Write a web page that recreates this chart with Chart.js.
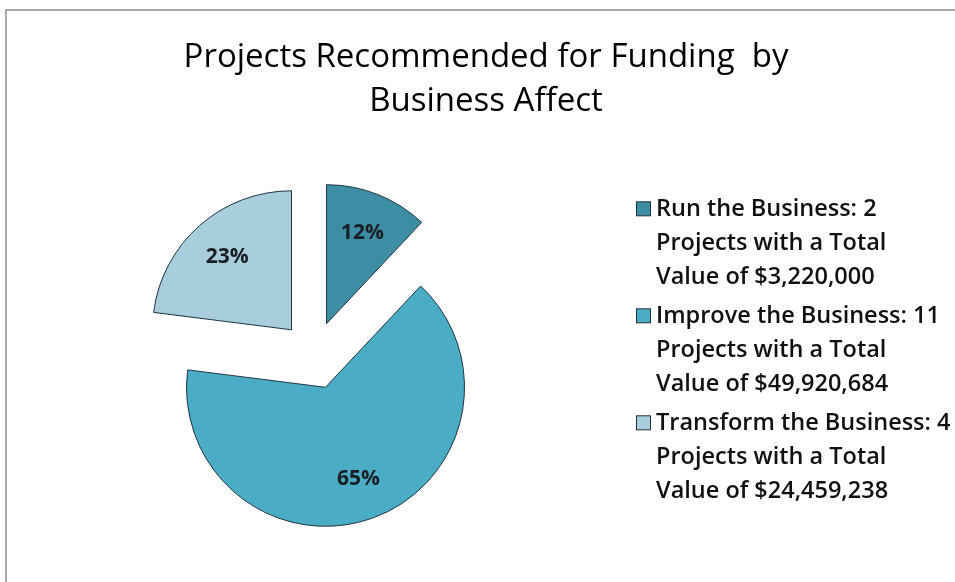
<!DOCTYPE html>
<html>
<head>
<meta charset="utf-8">
<script src="https://cdn.jsdelivr.net/npm/chart.js@4.4.1/dist/chart.umd.min.js"></script>
<style>
  html, body { margin: 0; padding: 0; background: #ffffff; }
  #wrap { position: relative; width: 955px; height: 582px; overflow: hidden; }
  #frame {
    position: absolute; left: 5px; top: 9px; width: 1000px; height: 620px;
    border-left: 2px solid #a8a8a8; border-top: 2px solid #a8a8a8;
  }
  canvas { position: absolute; left: 0; top: 0; }
</style>
</head>
<body>
<div id="wrap">
  <div id="frame"></div>
  <canvas id="chart" width="955" height="582"></canvas>
</div>
<script>
// Funding categories, share of recommended projects (%), project counts and totals
const categories = ['Run the Business', 'Improve the Business', 'Transform the Business'];
const sharePercent = [12, 65, 23];
const projectCounts = [2, 11, 4];
const totalValues = [3220000, 49920684, 24459238];
const sliceColors = ['#3d8da5', '#4bacc6', '#a8cddd'];
const titleLines = ['Projects Recommended for Funding  by', 'Business Affect'];

const FONT = '"Open Sans", Lato, sans-serif';
const EXPLODE = 34;        // how far each slice is pulled out from the centre
const PIE_RADIUS = 139;
const LEGEND_WIDTH = 344;

function money(v) {
  return '$' + v.toLocaleString('en-US');
}

function legendLines(i) {
  return [
    categories[i] + ': ' + projectCounts[i],
    'Projects with a Total',
    'Value of ' + money(totalValues[i])
  ];
}

// Each slice is drawn shifted outward along its own bisector.
const explodedSlices = {
  id: 'explodedSlices',
  beforeDatasetDraw(chart, args) {
    const ctx = chart.ctx;
    args.meta.data.forEach(arc => {
      const mid = (arc.startAngle + arc.endAngle) / 2;
      ctx.save();
      ctx.translate(Math.cos(mid) * EXPLODE, Math.sin(mid) * EXPLODE);
      arc.draw(ctx);
      ctx.restore();
    });
    return false;
  },
  afterDatasetsDraw(chart) {
    const ctx = chart.ctx;
    const meta = chart.getDatasetMeta(0);
    ctx.save();
    ctx.font = 'bold 21px ' + FONT;
    ctx.fillStyle = '#1a1f26';
    ctx.textAlign = 'center';
    ctx.textBaseline = 'middle';
    meta.data.forEach((arc, i) => {
      const mid = (arc.startAngle + arc.endAngle) / 2;
      const d = EXPLODE + arc.outerRadius * 0.7;
      ctx.fillText(sharePercent[i] + '%', arc.x + Math.cos(mid) * d, arc.y + Math.sin(mid) * d);
    });
    ctx.restore();
  }
};

// Legend panel registered as a layout box on the right of the pie.
const legendPanel = {
  id: 'legendPanel',
  beforeInit(chart) {
    const box = {
      position: 'right',
      weight: 0,
      fullSize: false,
      options: {},
      left: 0, top: 0, right: 0, bottom: 0, width: 0, height: 0,
      isHorizontal() { return false; },
      update(maxWidth, maxHeight) {
        this.width = LEGEND_WIDTH;
        this.height = maxHeight;
      },
      draw() {
        const ctx = chart.ctx;
        const lineStep = 34, groupGap = 5;
        const span = 8 * lineStep + 2 * groupGap;
        const midY = (this.top + this.bottom) / 2;
        let y = midY - span / 2 + 2;
        ctx.save();
        ctx.font = '600 23.5px ' + FONT;
        ctx.textAlign = 'left';
        ctx.textBaseline = 'alphabetic';
        categories.forEach((c, i) => {
          ctx.fillStyle = sliceColors[i];
          ctx.fillRect(this.left + 25.5, y - 14.5, 14, 14);
          ctx.strokeStyle = '#22303a';
          ctx.lineWidth = 1;
          ctx.strokeRect(this.left + 25.5, y - 14.5, 14, 14);
          ctx.fillStyle = '#111111';
          legendLines(i).forEach((t, k) => {
            ctx.fillText(t, this.left + 45, y + k * lineStep);
          });
          y += 3 * lineStep + groupGap;
        });
        ctx.restore();
      }
    };
    Chart.layouts.addBox(chart, box);
  }
};

new Chart(document.getElementById('chart'), {
  type: 'pie',
  data: {
    labels: categories,
    datasets: [{
      data: sharePercent,
      backgroundColor: sliceColors,
      borderColor: '#1e3442',
      borderWidth: 1,
      borderJoinStyle: 'miter',
      radius: PIE_RADIUS
    }]
  },
  options: {
    responsive: false,
    animation: false,
    events: [],
    layout: { padding: { left: 17, right: 0, top: 10, bottom: 4 } },
    plugins: {
      legend: { display: false },
      tooltip: { enabled: false },
      title: {
        display: true,
        text: titleLines,
        color: '#000000',
        font: { family: FONT, size: 33, weight: '500', lineHeight: 1.32 },
        padding: { top: 26, bottom: 9.5 }
      }
    }
  },
  plugins: [explodedSlices, legendPanel]
});
</script>
</body>
</html>
